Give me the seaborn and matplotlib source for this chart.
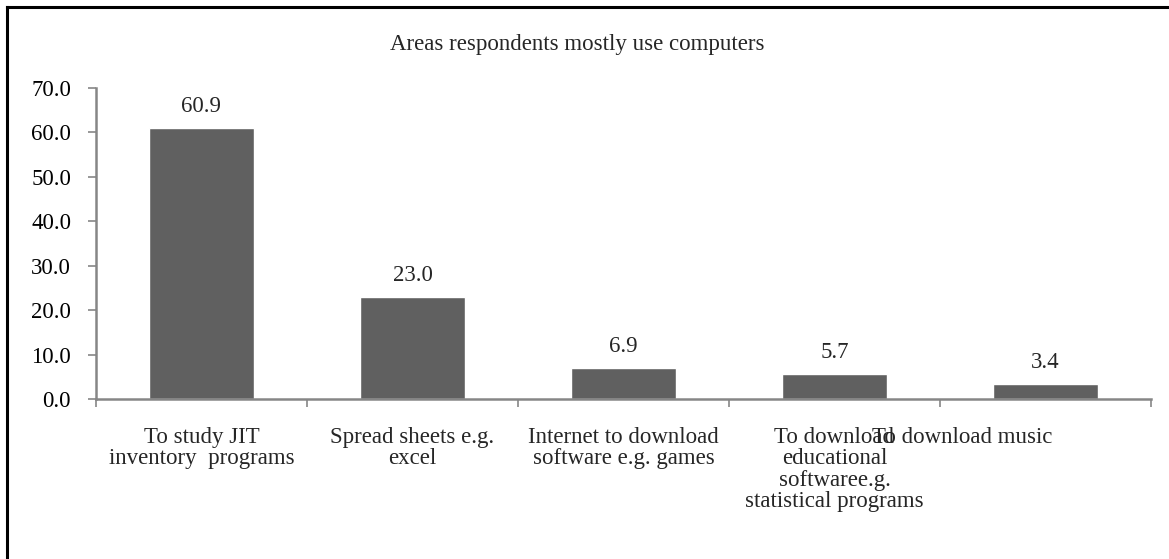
import matplotlib
matplotlib.use("Agg")
import matplotlib.pyplot as plt
import matplotlib.transforms as mtransforms
from matplotlib.lines import Line2D
from matplotlib.ticker import FixedLocator, FormatStrFormatter
import seaborn as sns
import pandas as pd

# Survey results: share of respondents (%) by main computer use
categories = [
    "To study JIT\ninventory  programs",
    "Spread sheets e.g.\nexcel",
    "Internet to download\nsoftware e.g. games",
    "To download\neducational\nsoftwaree.g.\nstatistical programs",
    "To download music",
]
percentages = [60.9, 23.0, 6.9, 5.7, 3.4]
value_labels = ["60.9", "23.0", "6.9", "5.7", "3.4"]
y_ticks = [0, 10, 20, 30, 40, 50, 60, 70]
title = "Areas respondents mostly use computers"

sns.set_style("white")
plt.rcParams["font.family"] = ["Liberation Serif", "DejaVu Serif"]

FS = 16.5
AXIS_GREY = "#868686"
BAR_GREY = "#606060"

W, H = 1169, 559
fig = plt.figure(figsize=(W / 100, H / 100), dpi=100)
ax = fig.add_axes([96 / W, 1 - 399 / H, (1151 - 96) / W, (399 - 88) / H])

df = pd.DataFrame({"category": categories, "pct": percentages})
sns.barplot(data=df, x="category", y="pct", color=BAR_GREY, width=0.5,
            saturation=1, ax=ax)

ax.set_xlim(-0.5, len(categories) - 0.5)
ax.set_ylim(0, 70)
ax.set_xlabel("")
ax.set_ylabel("")

# y axis
ax.yaxis.set_major_locator(FixedLocator(y_ticks))
ax.yaxis.set_major_formatter(FormatStrFormatter("%.1f"))
ax.tick_params(axis="y", length=6, width=1.2, color=AXIS_GREY, pad=12,
               labelsize=FS, labelcolor="black", left=True)

# x axis: ticks sit between categories, labels centred under bars
ax.set_xticks(range(len(categories)))
ax.set_xticklabels(categories, fontsize=FS, linespacing=1.03)
ax.xaxis.set_minor_locator(FixedLocator([i - 0.5 for i in range(len(categories) + 1)]))
ax.tick_params(axis="x", which="major", length=0, pad=20, labelsize=FS)
ax.tick_params(axis="x", which="minor", length=6, width=1.2, color=AXIS_GREY,
               bottom=True)

last = ax.get_xticklabels()[-1]
last.set_horizontalalignment("right")
last.set_transform(last.get_transform() +
                   mtransforms.ScaledTranslation(7 / 100, 0, fig.dpi_scale_trans))

for side in ["top", "right"]:
    ax.spines[side].set_visible(False)
for side in ["left", "bottom"]:
    ax.spines[side].set_color(AXIS_GREY)
    ax.spines[side].set_linewidth(1.8)

# value labels above bars
for i, (v, lab) in enumerate(zip(percentages, value_labels)):
    ax.annotate(lab, xy=(i, v), xytext=(0, 8), textcoords="offset points",
                ha="center", va="bottom", fontsize=FS)

fig.text(577 / W, 1 - 50 / H, title, ha="center", va="baseline", fontsize=FS)

# chart frame (top and left edges; the rest runs off the canvas)
fx, fy = 6.5 / W, 1 - 6.5 / H
fig.add_artist(Line2D([fx, 1.05], [fy, fy], transform=fig.transFigure,
                      color="black", linewidth=2.2, solid_capstyle="projecting"))
fig.add_artist(Line2D([fx, fx], [fy, -0.05], transform=fig.transFigure,
                      color="black", linewidth=2.2, solid_capstyle="projecting"))

fig.savefig("out.png", dpi=100)
